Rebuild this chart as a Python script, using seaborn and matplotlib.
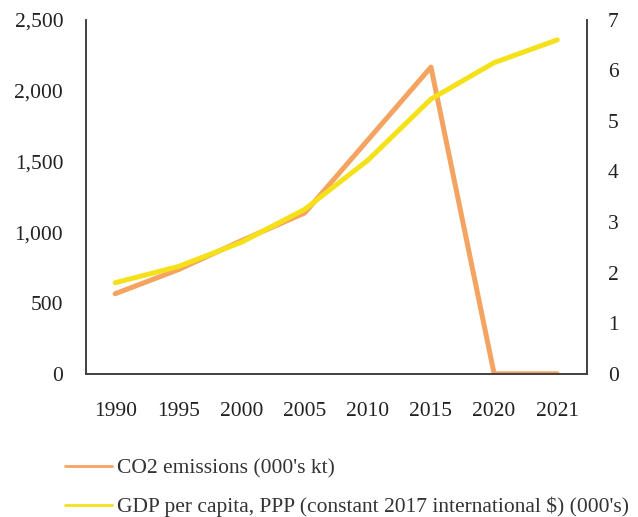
import pandas as pd
import seaborn as sns
import matplotlib.pyplot as plt
from matplotlib.ticker import FuncFormatter

years = ['1990', '1995', '2000', '2005', '2010', '2015', '2020', '2021']
co2 = [565, 735, 940, 1135, 1650, 2165, 0, 0]
gdp = [1.80, 2.12, 2.60, 3.25, 4.22, 5.43, 6.15, 6.60]

CO2_LABEL = "CO2 emissions (000's kt)"
GDP_LABEL = "GDP per capita, PPP (constant 2017 international $) (000's)"


def main():
    df = pd.DataFrame({'year': years, 'co2': co2, 'gdp': gdp})

    sns.set_style('white')
    plt.rcParams['font.family'] = ['Liberation Serif', 'DejaVu Serif']
    plt.rcParams['font.size'] = 15.5

    fig = plt.figure(figsize=(6.38, 5.17), dpi=100)
    ax = fig.add_axes([0.135, 0.277, 0.785, 0.685])
    ax2 = ax.twinx()

    sns.lineplot(data=df, x='year', y='co2', ax=ax, color='#F4A460', linewidth=3.6,
                 sort=False, label=CO2_LABEL, legend=False)
    sns.lineplot(data=df, x='year', y='gdp', ax=ax2, color='#F5E11A', linewidth=3.6,
                 sort=False, label=GDP_LABEL, legend=False)

    ax.set_xlim(-0.46, 7.47)
    ax.set_ylim(0, 2500)
    ax.set_yticks(range(0, 2501, 500))
    ax.yaxis.set_major_formatter(FuncFormatter(lambda v, p: f'{int(v):,}'))
    ax2.set_ylim(0, 7)
    ax2.set_yticks(range(0, 8))

    ax.set_xlabel('')
    ax.set_ylabel('')
    ax2.set_ylabel('')
    ax.tick_params(axis='both', length=0, colors='#222222', labelsize=15.5)
    ax.tick_params(axis='x', pad=20.5)
    ax.tick_params(axis='y', pad=16.5)
    ax2.tick_params(axis='y', length=0, pad=15, colors='#222222', labelsize=15.5)

    for a in (ax, ax2):
        a.spines['top'].set_visible(False)
        for s in ('left', 'right', 'bottom'):
            a.spines[s].set_color('#404040')
            a.spines[s].set_linewidth(1.2)
        a.grid(False)

    handles = ax.get_lines()[:1] + ax2.get_lines()[:1]
    leg = fig.legend(handles, [CO2_LABEL, GDP_LABEL], loc='upper left',
                     bbox_to_anchor=(0.102, 0.114), frameon=False,
                     handlelength=2.2, handletextpad=0.2, labelspacing=0.86,
                     borderaxespad=0, borderpad=0, fontsize=15.5)
    for line in leg.get_lines():
        line.set_linewidth(2)
    for t in leg.get_texts():
        t.set_color('#333333')

    fig.savefig('out.png', dpi=100)


if __name__ == '__main__':
    main()
